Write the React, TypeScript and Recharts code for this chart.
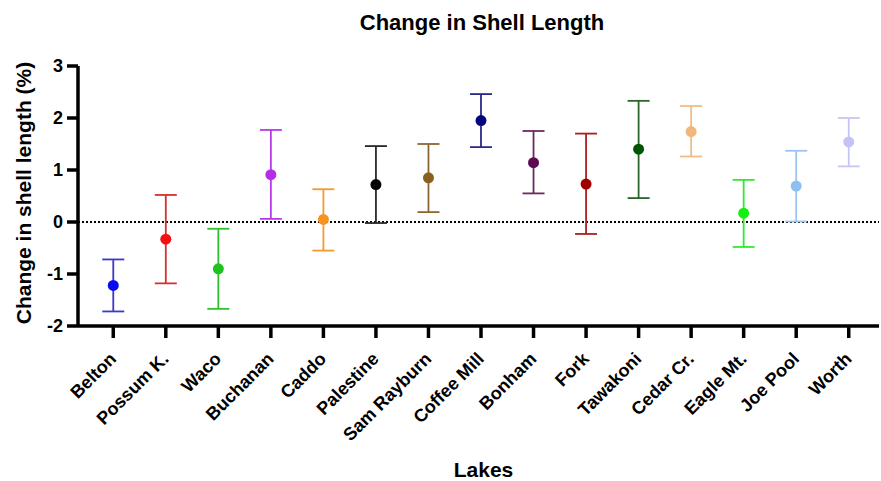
import {
  ScatterChart,
  Scatter,
  XAxis,
  YAxis,
  ErrorBar,
  ReferenceLine,
  Label,
} from "recharts";

const lakes = [
  "Belton",
  "Possum K.",
  "Waco",
  "Buchanan",
  "Caddo",
  "Palestine",
  "Sam Rayburn",
  "Coffee Mill",
  "Bonham",
  "Fork",
  "Tawakoni",
  "Cedar Cr.",
  "Eagle Mt.",
  "Joe Pool",
  "Worth",
];

const means = [-1.22, -0.33, -0.9, 0.91, 0.05, 0.72, 0.85, 1.95, 1.14, 0.73, 1.4, 1.74, 0.17, 0.69, 1.54];
const lows = [-1.72, -1.18, -1.67, 0.06, -0.55, -0.02, 0.19, 1.44, 0.55, -0.23, 0.46, 1.26, -0.48, 0.01, 1.07];
const highs = [-0.72, 0.52, -0.13, 1.77, 0.63, 1.46, 1.5, 2.46, 1.75, 1.7, 2.33, 2.23, 0.81, 1.37, 2.0];

const dotColors = [
  "#0a0af5",
  "#f51010",
  "#1ec31e",
  "#b32ee6",
  "#f7931e",
  "#050505",
  "#8c5f1e",
  "#050580",
  "#5e0a50",
  "#a00000",
  "#005500",
  "#f0b77c",
  "#12f012",
  "#8fbef2",
  "#c3c3f7",
];
const barColors = [
  "#3a3ac8",
  "#d63030",
  "#2ec02e",
  "#b83ae6",
  "#f29a30",
  "#2a2a2a",
  "#8c6630",
  "#2a2a88",
  "#6a2a60",
  "#a82020",
  "#2a662a",
  "#f0bc88",
  "#30ea30",
  "#9cc4f2",
  "#c6c6f5",
];

const yTicks = [-2, -1, 0, 1, 2, 3];
const xTicks = lakes.map((_, i) => i);

const series = lakes.map((lake, i) => ({
  lake,
  dot: dotColors[i],
  bar: barColors[i],
  data: [{ x: i, y: means[i], err: [means[i] - lows[i], highs[i] - means[i]] }],
}));

const font = "'Liberation Sans', Arial, sans-serif";

const LakeTick = ({ x, y, payload }: any) => (
  <g transform={`translate(${x + 4},${y + 20})`}>
    <text
      x={0}
      y={0}
      textAnchor="end"
      transform="rotate(-45)"
      fontFamily={font}
      fontWeight="bold"
      fontSize={18}
      fill="#000"
    >
      {lakes[payload.value]}
    </text>
  </g>
);

export default function App() {
  return (
    <div style={{ position: "absolute", left: 0, top: 0, width: 881, height: 481, background: "#fff" }}>
      <div
        style={{
          position: "absolute",
          left: 0,
          top: 10,
          width: 964,
          textAlign: "center",
          fontFamily: font,
          fontWeight: "bold",
          fontSize: 22,
          color: "#000",
        }}
      >
        Change in Shell Length
      </div>
      <ScatterChart width={881} height={481} margin={{ top: 66, right: 2, bottom: 0, left: 0 }}>
        <XAxis
          type="number"
          dataKey="x"
          domain={[-0.5, 14.5]}
          ticks={xTicks}
          interval={0}
          padding={{ left: 9, right: 4 }}
          height={155}
          stroke="#000"
          axisLine={{ strokeWidth: 3.5 }}
          tickLine={{ strokeWidth: 3.5 }}
          tickSize={12}
          tick={<LakeTick />}
        >
          <Label
            value="Lakes"
            position="insideBottom"
            offset={4}
            dx={5}
            style={{ fontFamily: font, fontWeight: "bold", fontSize: 21, fill: "#000" }}
          />
        </XAxis>
        <YAxis
          type="number"
          dataKey="y"
          domain={[-2, 3]}
          ticks={yTicks}
          width={78}
          stroke="#000"
          axisLine={{ strokeWidth: 3.5 }}
          tickLine={{ strokeWidth: 3.5 }}
          tickSize={11}
          tickMargin={4}
          tick={{ fontFamily: font, fontWeight: "bold", fontSize: 18, fill: "#000" }}
        >
          <Label
            value="Change in shell length (%)"
            angle={-90}
            position="insideLeft"
            offset={24}
            dy={-3}
            style={{ textAnchor: "middle", fontFamily: font, fontWeight: "bold", fontSize: 21, fill: "#000" }}
          />
        </YAxis>
        <ReferenceLine y={0} stroke="#000" strokeWidth={2.2} strokeDasharray="2 2" />
        {series.map((s) => (
          <Scatter
            key={s.lake}
            name={s.lake}
            data={s.data}
            fill={s.dot}
            isAnimationActive={false}
            shape={(p: any) => <circle cx={p.cx} cy={p.cy} r={5.5} fill={s.dot} />}
          >
            <ErrorBar dataKey="err" direction="y" width={11} stroke={s.bar} strokeWidth={1.8} />
          </Scatter>
        ))}
      </ScatterChart>
    </div>
  );
}
